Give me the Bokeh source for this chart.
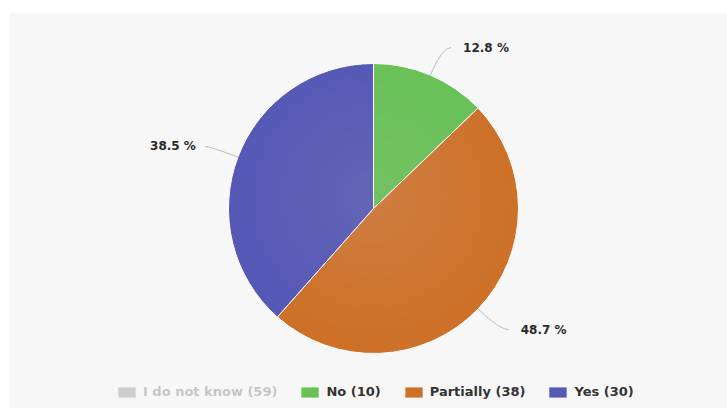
import math
from bokeh.plotting import figure
from bokeh.models import Range1d, BoxAnnotation, ColumnDataSource, Legend, LegendItem
from bokeh.embed import file_html
from bokeh.resources import INLINE
from bokeh.core.properties import value

# ---- data ----
categories = ["I do not know", "No", "Partially", "Yes"]
counts = [59, 10, 38, 30]
shown = [False, True, True, True]
colors = ["#555555", "#68c157", "#cd7128", "#5658b6"]

# ---- layout ----
W, H = 727, 408
p = figure(width=W, height=H, x_range=Range1d(0, 727), y_range=Range1d(0, 408),
           output_backend="svg", toolbar_location=None, min_border=0,
           x_axis_location=None, y_axis_location=None)
p.grid.visible = False
p.outline_line_color = None
p.background_fill_color = "white"
p.border_fill_color = "white"

bg = BoxAnnotation(left=9, top=395, fill_color="#f7f7f7", fill_alpha=1.0,
                   line_alpha=0, level="underlay")
p.add_layout(bg)

cx, cy, r = 373, 200, 145
total = sum(c for c, s in zip(counts, shown) if s)

legend_items = []
cum = 0.0
lab_x, lab_y, lab_t, lab_align = [], [], [], []
con = dict(x0=[], y0=[], x1=[], y1=[], cx=[], cy=[])
for cat, cnt, s, col in zip(categories, counts, shown, colors):
    frac = cnt / total if s else 0.0
    start, end = cum, cum + frac
    src = ColumnDataSource(dict(x=[cx], y=[cy],
                                sa=[math.pi / 2 - 2 * math.pi * end],
                                ea=[math.pi / 2 - 2 * math.pi * start]))
    wr = p.wedge(x="x", y="y", radius=r, start_angle="sa", end_angle="ea",
                 direction="anticlock", fill_color=col, line_color="white",
                 line_width=1, source=src)
    if not s:
        wr.visible = False
    legend_items.append(LegendItem(label=f"{cat} ({cnt})", renderers=[wr]))
    if s:
        mid = 2 * math.pi * (start + end) / 2
        sx, cyy = math.sin(mid), math.cos(mid)
        ex, ey = cx + r * sx, cy + r * cyy
        ax, ay = cx + (r + 30) * sx, cy + (r + 30) * cyy
        right = sx > 0
        side = 1 if right else -1
        con["x0"].append(ex); con["y0"].append(ey)
        con["x1"].append(ax + side * (9 if right else 5)); con["y1"].append(ay)
        con["cx"].append(ax); con["cy"].append(ay)
        lab_x.append(ax + side * (21 if right else 14)); lab_y.append(ay)
        lab_t.append(f"{100 * cnt / total:.1f} %")
        lab_align.append("left" if right else "right")
    cum = end

# soft radial highlight
for k in range(1, 13):
    p.circle(x=[cx], y=[cy + 12], radius=r * (1 - k / 13.5), fill_color="white",
             fill_alpha=0.011, line_color=None)

p.quadratic(x0="x0", y0="y0", x1="x1", y1="y1", cx="cx", cy="cy",
            source=ColumnDataSource(con), line_color="#bdbdbd", line_width=1)

p.text(x="x", y="y", text="t", text_align="a",
       source=ColumnDataSource(dict(x=lab_x, y=lab_y, t=lab_t, a=lab_align)),
       text_baseline="middle", text_font=value("DejaVu Sans"),
       text_font_style="bold", text_font_size="12px", text_color="#2a2a2a")

legend = Legend(items=legend_items, orientation="horizontal", location=(115, 9),
                click_policy="hide", label_text_font="DejaVu Sans",
                label_text_font_style="bold", label_text_font_size="13px",
                label_text_color="#333333", glyph_width=23, glyph_height=14,
                label_height=14, label_standoff=5, spacing=21, padding=0, margin=0,
                background_fill_alpha=0, border_line_alpha=0,
                inactive_fill_color="#f7f7f7", inactive_fill_alpha=0.75)
p.add_layout(legend)

open("out.html", "w").write(file_html(p, INLINE))
